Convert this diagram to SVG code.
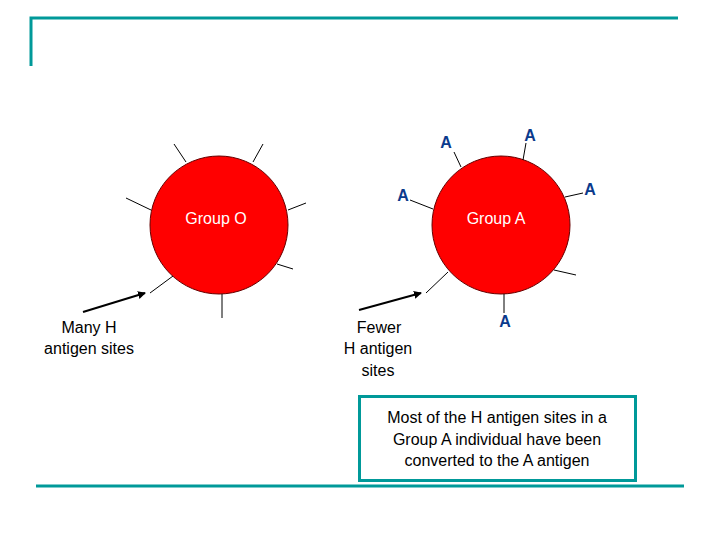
<svg xmlns="http://www.w3.org/2000/svg" width="720" height="540" viewBox="0 0 720 540">
<style>
.t{font-family:"Liberation Sans",Arial,sans-serif;font-size:16px;fill:#000;text-anchor:middle}
.w{font-family:"Liberation Sans",Arial,sans-serif;font-size:16px;fill:#fff;text-anchor:middle}
.a{font-family:"Liberation Sans",Arial,sans-serif;font-size:16px;font-weight:bold;fill:#0b3a8c;text-anchor:middle}
.c{fill:#ff0000;stroke:#600;stroke-width:1}
.s{stroke:#000;stroke-width:1;fill:none}
.f{stroke:#009999;stroke-width:3;fill:none}
</style>
<defs><marker id="ah" markerWidth="8" markerHeight="8" refX="7" refY="4" orient="auto" markerUnits="userSpaceOnUse"><path d="M0,0 L8,4 L0,8 z" fill="#000"/></marker></defs>
<g id="frame">
<path class="f" d="M31,66 V18 H678"/>
<path class="f" d="M36,486 H684"/>
</g>
<g id="groupO">
<circle class="c" cx="219" cy="225" r="69"/>
<text class="w" x="216" y="224">Group O</text>
<path class="s" d="M174,144 L186,162 M263,144 L253,162 M126,198 L151,210 M306,203 L288,210 M293,269 L277,264 M150,293 L173,276 M222,318 L222,294"/>
</g>
<g id="groupA">
<circle class="c" cx="501" cy="225" r="69"/>
<text class="w" x="496" y="224">Group A</text>
<path class="s" d="M461,167 L454,152 M523,160 L526,143 M565,197 L583,193 M433,209 L410,200 M554,270 L576,275 M448,272 L426,293 M504,294 L504,313"/>
<text class="a" x="446" y="148">A</text>
<text class="a" x="530" y="141">A</text>
<text class="a" x="590" y="195">A</text>
<text class="a" x="403" y="201">A</text>
<text class="a" x="505" y="327">A</text>
</g>
<g id="connectors">
<line x1="83" y1="312" x2="145" y2="293" stroke="#000" stroke-width="2" marker-end="url(#ah)"/>
<line x1="359" y1="310" x2="421" y2="293" stroke="#000" stroke-width="2" marker-end="url(#ah)"/>
</g>
<g id="labelO"><text class="t" x="89" y="333">Many H</text><text class="t" x="89" y="354">antigen sites</text></g>
<g id="labelA"><text class="t" x="379" y="333">Fewer</text><text class="t" x="378" y="354">H antigen</text><text class="t" x="378" y="376">sites</text></g>
<g id="note">
<rect x="359.5" y="396.5" width="276" height="84" fill="#fff" stroke="#009999" stroke-width="3"/>
<text class="t" x="497" y="423">Most of the H antigen sites in a</text>
<text class="t" x="497" y="445">Group A individual have been</text>
<text class="t" x="497" y="466">converted to the A antigen</text>
</g>
</svg>
